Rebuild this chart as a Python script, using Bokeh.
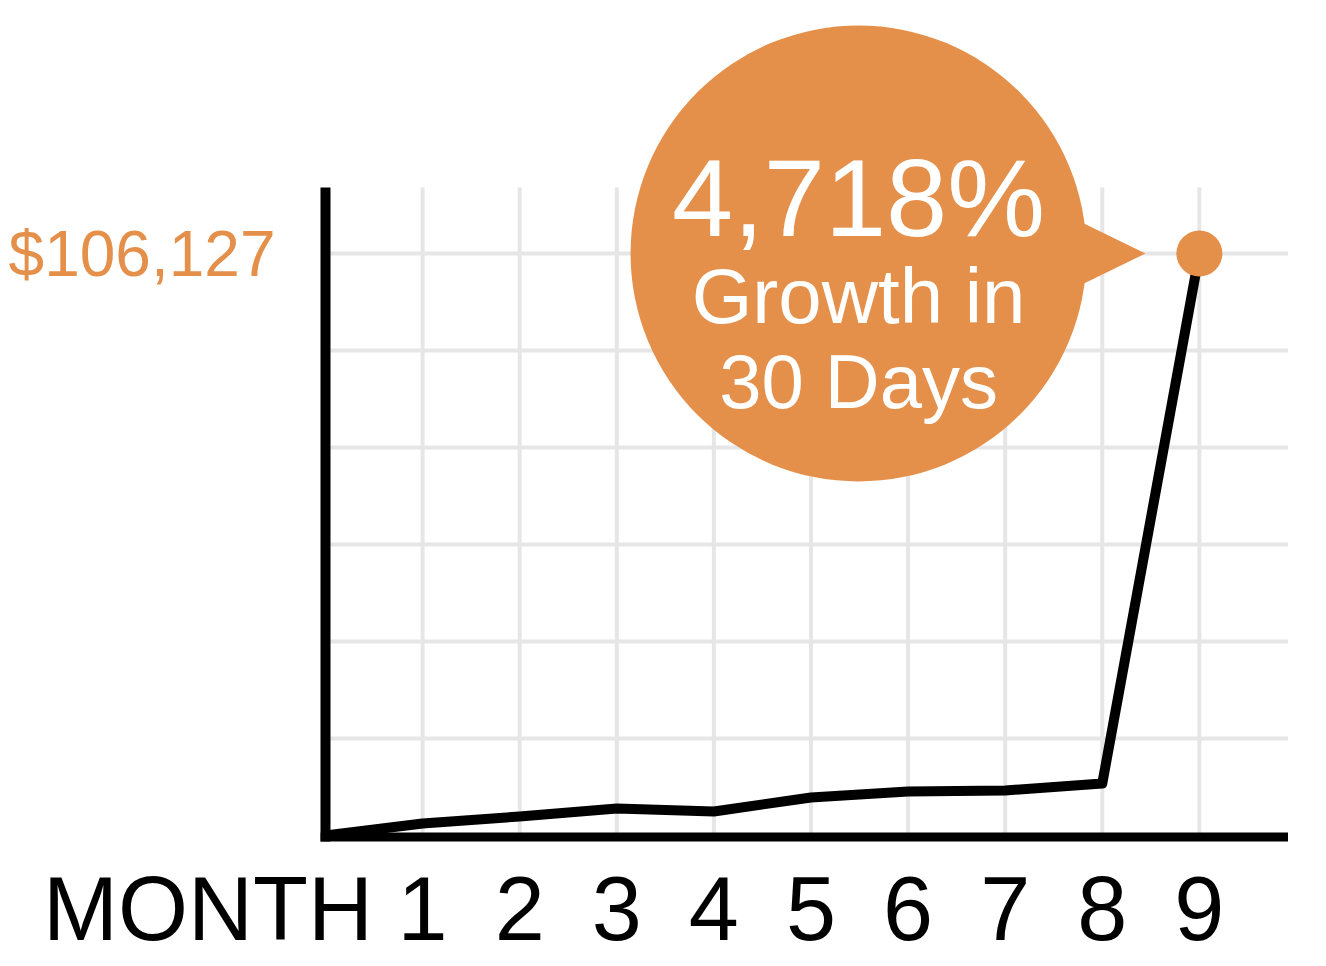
from bokeh.plotting import figure
from bokeh.models import Range1d, FixedTicker, Label
from bokeh.embed import file_html
from bokeh.resources import INLINE

# ---- data ----
months = [0, 1, 2, 3, 4, 5, 6, 7, 8, 9]
revenue = [0, 2203, 3465, 4923, 4376, 6929, 8023, 8206, 9482, 106127]
month_labels = ["1", "2", "3", "4", "5", "6", "7", "8", "9"]
axis_title = "MONTH"
peak_label = "$106,127"
growth_lines = ["4,718%", "Growth in", "30 Days"]

ORANGE = "#E5904A"
GRID = "#E6E6E6"
FONT = "Liberation Sans"

peak = revenue[-1]
grid_step = peak / 6.0
y_grid = [grid_step * k for k in range(1, 7)]
grid_top = grid_step * 6.68
x_start, x_end = -3.347, 9.918
y_start, y_end = -1094, 152262
axis_y = -365          # where the drawn x-axis line sits
title_x = -1.21        # position of the "MONTH" tick

p = figure(frame_width=1288, frame_height=841, output_backend="svg", toolbar_location=None,
           x_range=Range1d(x_start, x_end), y_range=Range1d(y_start, y_end),
           min_border_left=0, min_border_right=0, min_border_top=0,
           min_border_bottom=0)
p.outline_line_color = None
p.xgrid.visible = False
p.ygrid.visible = False
p.yaxis.visible = False
p.background_fill_color = "white"
p.border_fill_color = "white"

# grid
p.segment(x0=months[1:], y0=[0] * 9, x1=months[1:], y1=[grid_top] * 9,
          line_color=GRID, line_width=4)
p.segment(x0=[0] * 6, y0=y_grid, x1=[x_end] * 6, y1=y_grid,
          line_color=GRID, line_width=4)

# axis lines
p.segment(x0=[0], y0=[axis_y - 900], x1=[0], y1=[grid_top], line_color="black", line_width=10)
p.segment(x0=[-0.05], y0=[axis_y], x1=[x_end], y1=[axis_y], line_color="black", line_width=10)

# data line
p.line(months, revenue, line_color="black", line_width=10, line_join="round")

# speech bubble
bx = 5.49
p.scatter(x=[bx], y=[peak], size=456, marker="circle", fill_color=ORANGE, line_color=None)
p.patch(x=[7.6, months[-1] - 0.555, 7.6], y=[peak + 7300, peak, peak - 7300],
        fill_color=ORANGE, line_color=None)
p.scatter(x=[months[-1]], y=[peak], size=46, marker="circle", fill_color=ORANGE, line_color=None)

for txt, off, fs in zip(growth_lines, [56, -42, -128], ["110px", "78px", "76px"]):
    p.add_layout(Label(x=bx, y=peak, y_offset=off, text=txt, text_align="center",
                       text_baseline="alphabetic", text_color="white",
                       text_font=FONT, text_font_size=fs))

# peak value label
p.add_layout(Label(x=0, y=peak, x_offset=-50, text=peak_label, text_align="right",
                   text_baseline="middle", text_color=ORANGE,
                   text_font=FONT, text_font_size="64px"))

# x axis (labels only; line drawn above)
xa = p.xaxis[0]
ticks = [title_x] + months[1:]
xa.ticker = FixedTicker(ticks=ticks)
xa.major_label_overrides = {t: lab for t, lab in zip(ticks, [axis_title] + month_labels)}
xa.axis_line_color = None
xa.major_tick_line_color = None
xa.minor_tick_line_color = None
xa.major_label_text_font = FONT
xa.major_label_text_font_size = "90px"
xa.major_label_text_color = "black"
xa.major_label_standoff = 11

open("out.html", "w").write(file_html(p, INLINE))
